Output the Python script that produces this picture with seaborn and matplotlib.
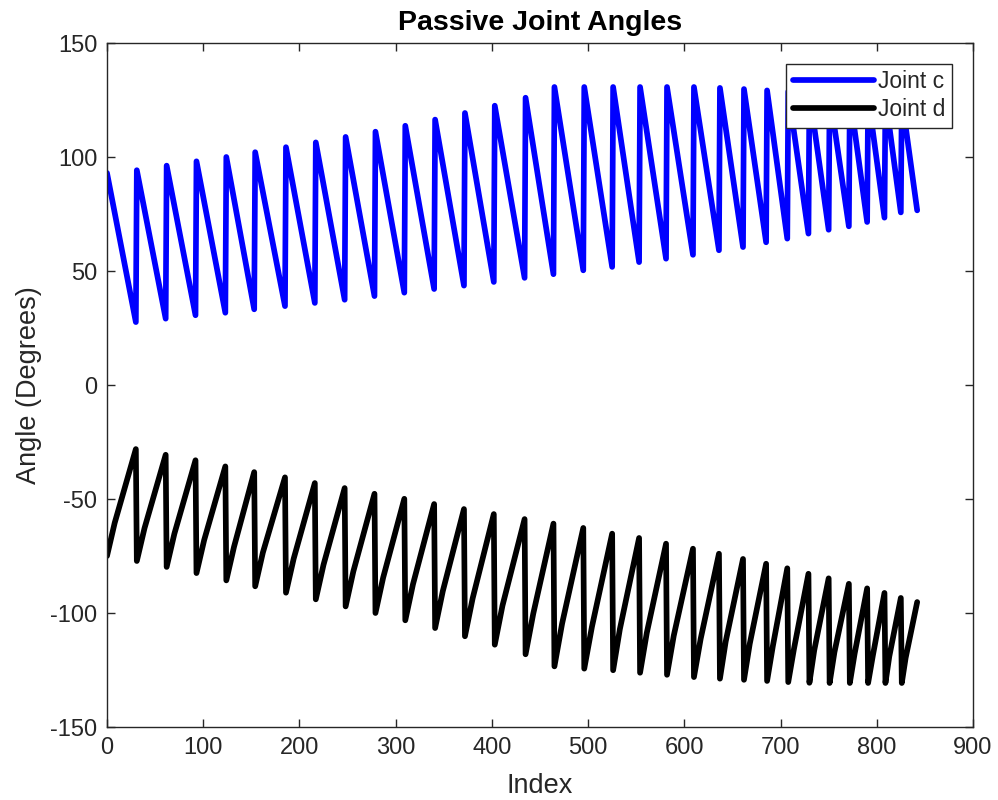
import numpy as np
import pandas as pd
import matplotlib
matplotlib.use("Agg")
import matplotlib.pyplot as plt
import seaborn as sns

# 每个周期起点的索引（跳变发生处），最后一个点的索引
cycle_start = [0, 31, 62, 93, 124, 154, 186, 217, 248, 279, 310, 341, 372, 403, 435,
               465, 496, 526, 554, 582, 610, 637, 662, 686, 708, 730, 751, 772, 791, 809, 826]
last_index = 842

# Joint c：每个周期开头的峰值和结尾的谷值（度）
joint_c_peak = [93.0, 94.2, 96.2, 98.1, 100.0, 102.1, 104.3, 106.4, 108.8, 111.1, 113.7,
                116.4, 119.3, 122.5, 126.0, 130.7, 130.7, 130.7, 130.7, 130.7, 130.7,
                130.3, 129.8, 129.2, 128.7, 128.2, 127.7, 127.2, 126.7, 126.2, 125.7]
joint_c_trough = [27.6, 29.1, 30.6, 31.7, 33.2, 34.6, 36.0, 37.4, 39.0, 40.5, 42.1,
                  43.6, 45.2, 47.0, 48.6, 50.3, 51.8, 53.9, 55.4, 57.1, 59.1,
                  60.5, 62.6, 64.2, 66.4, 68.1, 69.6, 71.5, 73.4, 75.7, 76.6]

# Joint d：每个周期开头的谷值、上升段中途的值、结尾的峰值（度）
joint_d_trough = [-75.0, -77.2, -79.8, -82.5, -85.7, -88.3, -91.1, -94.0, -97.1, -100.0, -103.2,
                  -106.6, -110.2, -113.9, -118.1, -123.4, -124.4, -125.1, -126.2, -127.1, -128.1,
                  -128.8, -129.3, -129.8, -130.3, -130.6, -130.7, -130.7, -130.7, -130.7, -130.7]
joint_d_knee = [-60.5, -62.8, -65.3, -68.0, -71.0, -73.5, -76.2, -78.9, -81.8, -84.5, -87.4,
                -90.4, -93.6, -96.8, -100.3, -104.6, -106.0, -107.1, -108.7, -110.0, -111.3,
                -112.5, -113.5, -114.5, -115.6, -116.4, -117.2, -117.8, -118.5, -119.1, -119.7]
joint_d_knee_index = [8, 39, 70, 101, 132, 162, 194, 225, 256, 287, 318, 349, 380, 411, 443,
                      473, 504, 533, 561, 589, 617, 643, 668, 692, 714, 735, 756, 777, 796, 813, 830]
joint_d_peak = [-28.1, -30.6, -33.0, -35.7, -38.2, -40.5, -43.0, -45.2, -47.7, -49.9, -52.2,
                -54.4, -56.6, -58.8, -60.8, -62.7, -65.2, -67.1, -69.6, -71.8, -74.0,
                -76.3, -78.4, -80.4, -82.8, -84.8, -87.2, -89.2, -91.2, -93.4, -95.2]

# 拼成长表
cycle_end = [s - 1 for s in cycle_start[1:]] + [last_index]
c_idx = np.ravel(np.column_stack([cycle_start, cycle_end]))
c_vals = np.ravel(np.column_stack([joint_c_peak, joint_c_trough]))
d_idx = np.ravel(np.column_stack([cycle_start, joint_d_knee_index, cycle_end]))
d_vals = np.ravel(np.column_stack([joint_d_trough, joint_d_knee, joint_d_peak]))

df = pd.DataFrame({
    "Index": np.concatenate([c_idx, d_idx]),
    "Angle": np.concatenate([c_vals, d_vals]),
    "Joint": ["Joint c"] * len(c_idx) + ["Joint d"] * len(d_idx),
})

sns.set_style("ticks")
plt.rcParams["font.family"] = ["Liberation Sans", "DejaVu Sans"]
plt.rcParams["axes.unicode_minus"] = False
plt.rcParams["text.color"] = "#262626"
plt.rcParams["axes.labelcolor"] = "#262626"
plt.rcParams["xtick.color"] = "#262626"
plt.rcParams["ytick.color"] = "#262626"

fig = plt.figure(figsize=(9.98, 8), dpi=100)
ax = fig.add_axes([0.1072, 0.09125, 0.86774, 0.855])

sns.lineplot(data=df, x="Index", y="Angle", hue="Joint",
             palette={"Joint c": "#0000ff", "Joint d": "#000000"},
             sort=False, estimator=None, linewidth=4.1, ax=ax)

ax.set_xlim(0, 900)
ax.set_ylim(-150, 150)
ax.set_xticks(np.arange(0, 901, 100))
ax.set_yticks(np.arange(-150, 151, 50))
ax.tick_params(direction="in", length=6, width=1.0, labelsize=17,
               top=True, right=True, pad=7)
for sp in ax.spines.values():
    sp.set_visible(True)
    sp.set_color("#262626")
    sp.set_linewidth(1.0)

ax.set_title("Passive Joint Angles", fontsize=20.5, fontweight="bold", color="black", pad=9)
ax.set_xlabel("Index", fontsize=19.5, labelpad=10)
ax.set_ylabel("Angle (Degrees)", fontsize=19.5, labelpad=6)

leg = ax.legend(loc="upper right", fontsize=16.5, frameon=True, fancybox=False,
                edgecolor="#262626", framealpha=1, borderaxespad=0.9,
                handlelength=3.5, handletextpad=0.2, borderpad=0.3, labelspacing=0.2)
leg.get_frame().set_linewidth(1.0)

plt.savefig("out.png", dpi=100)
